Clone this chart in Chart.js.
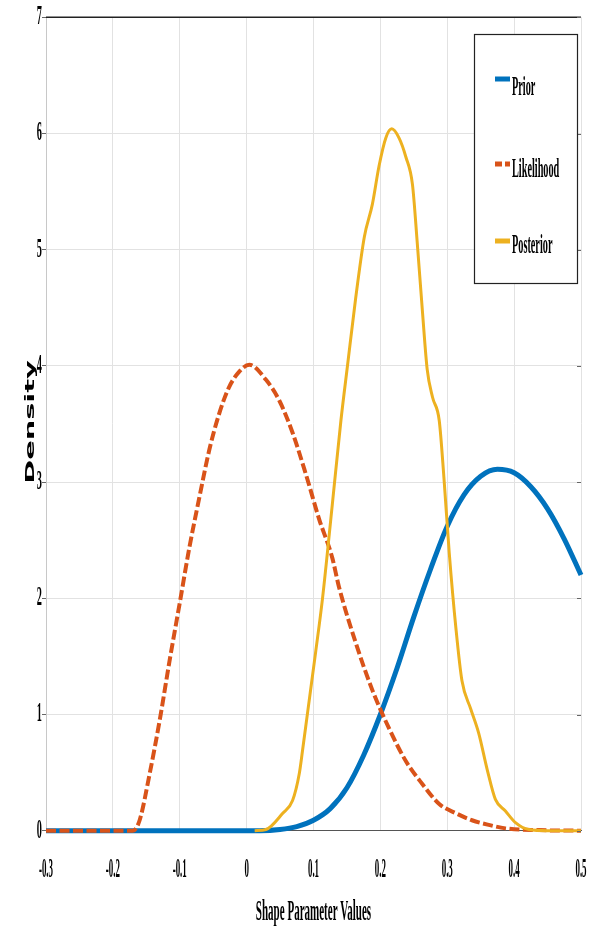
<!DOCTYPE html>
<html>
<head>
<meta charset="utf-8">
<script src="https://cdn.jsdelivr.net/npm/chart.js@4.4.1/dist/chart.umd.min.js"></script>
<style>
  html, body { margin: 0; padding: 0; background: #fff; }
  canvas { display: block; }
</style>
</head>
<body>
<canvas id="density" width="603" height="936"></canvas>
<script>
// values
const priorX = [-0.3, -0.2, -0.1, 0, 0.02, 0.05, 0.075, 0.1, 0.125, 0.15, 0.175, 0.2, 0.225, 0.25, 0.275, 0.3, 0.325, 0.35, 0.375, 0.4, 0.425, 0.45, 0.475, 0.5];
const priorY = [0, 0, 0, 0, 0, 0.01, 0.035, 0.09, 0.19, 0.37, 0.65, 1.0, 1.4, 1.84, 2.25, 2.62, 2.89, 3.05, 3.11, 3.08, 2.96, 2.77, 2.51, 2.2];

const likeX = [-0.3, -0.2, -0.17, -0.16, -0.145, -0.13, -0.115, -0.1, -0.0855, -0.0706, -0.0557, -0.041, -0.026, -0.011, 0.004, 0.029, 0.049, 0.069, 0.089, 0.1085, 0.128, 0.138, 0.163, 0.188, 0.213, 0.238, 0.263, 0.288, 0.313, 0.337, 0.362, 0.387, 0.437, 0.5];
const likeY = [0, 0, 0, 0.09, 0.49, 0.95, 1.47, 1.96, 2.44, 2.87, 3.28, 3.59, 3.82, 3.95, 4.01, 3.88, 3.7, 3.42, 3.06, 2.68, 2.35, 2.1, 1.62, 1.21, 0.88, 0.6, 0.4, 0.23, 0.15, 0.09, 0.05, 0.02, 0.005, 0];

const postX = [0.012, 0.029, 0.054, 0.0687, 0.0787, 0.0836, 0.091, 0.1035, 0.1135, 0.128, 0.141, 0.151, 0.163, 0.176, 0.188, 0.198, 0.208, 0.217, 0.228, 0.238, 0.248, 0.255, 0.263, 0.27, 0.278, 0.288, 0.295, 0.303, 0.313, 0.322, 0.335, 0.347, 0.36, 0.372, 0.387, 0.402, 0.422, 0.45, 0.5];
const postY = [0, 0.01, 0.15, 0.26, 0.49, 0.69, 1.01, 1.55, 2.0, 2.8, 3.53, 4.01, 4.58, 5.11, 5.39, 5.72, 5.96, 6.04, 5.96, 5.8, 5.56, 5.07, 4.46, 3.97, 3.73, 3.53, 3.04, 2.39, 1.74, 1.29, 1.05, 0.84, 0.52, 0.27, 0.17, 0.07, 0.01, 0, 0];

const xTickLabels = ['-0.3', '-0.2', '-0.1', '0', '0.1', '0.2', '0.3', '0.4', '0.5'];
const yTickLabels = ['0', '1', '2', '3', '4', '5', '6', '7'];
const seriesNames = ['Prior', 'Likelihood', 'Posterior'];

const BLUE = '#0072BD', ORANGE = '#D95319', YELLOW = '#EDB120';

function pts(xs, ys) {
    return xs.map((x, i) => ({x: x, y: ys[i]}));
}

// squeezed serif text like the original figure
function txt(ctx, s, x, y, size, sx, align, weight, base) {
    ctx.save();
    ctx.font = (weight || 'normal') + ' ' + size + 'px "Liberation Serif", serif';
    ctx.textAlign = align || 'center';
    ctx.textBaseline = base || 'middle';
    ctx.fillStyle = '#000';
    ctx.translate(x, y);
    ctx.scale(sx, 1);
    ctx.fillText(s, 0, 0);
    ctx.restore();
}

const decor = {
    id: 'decor',
    afterDraw(chart) {
        const ctx = chart.ctx;
        const a = chart.chartArea;
        const xs = chart.scales.x, ys = chart.scales.y;

        // top box line and right side ticks
        ctx.save();
        ctx.strokeStyle = '#222';
        ctx.lineWidth = 1.5;
        ctx.beginPath();
        ctx.moveTo(a.left, a.top);
        ctx.lineTo(a.right, a.top);
        ctx.stroke();
        ctx.strokeStyle = '#666';
        ctx.lineWidth = 1;
        yTickLabels.forEach(l => {
            const py = Math.round(ys.getPixelForValue(parseFloat(l))) + 0.5;
            ctx.beginPath();
            ctx.moveTo(a.right - 4, py);
            ctx.lineTo(a.right, py);
            ctx.stroke();
        });
        ctx.restore();

        // tick labels
        xTickLabels.forEach(l => {
            txt(ctx, l, xs.getPixelForValue(parseFloat(l)), 870, 27, 0.33, 'center', 'bold');
        });
        yTickLabels.forEach(l => {
            txt(ctx, l, 42, ys.getPixelForValue(parseFloat(l)), 27, 0.38, 'right', 'bold');
        });

        // axis titles
        txt(ctx, 'Shape Parameter Values', (a.left + a.right) / 2, 913, 29, 0.38, 'center', 'bold');
        ctx.save();
        ctx.translate(31, 422);
        ctx.rotate(-Math.PI / 2);
        ctx.scale(2.4, 1);
        ctx.font = 'bold 12px "DejaVu Sans", sans-serif';
        ctx.textAlign = 'center';
        ctx.textBaseline = 'middle';
        ctx.fillStyle = '#000';
        ctx.fillText('Density', 0, 0);
        ctx.restore();

        // legend box
        ctx.save();
        ctx.fillStyle = '#fff';
        ctx.fillRect(474, 34, 103, 249);
        ctx.strokeStyle = '#222';
        ctx.lineWidth = 1.2;
        ctx.strokeRect(474.5, 34.5, 103, 249);
        const rows = [
            {c: BLUE, ly: 79, ty: 95, dash: []},
            {c: ORANGE, ly: 164, ty: 177, dash: [7, 3]},
            {c: YELLOW, ly: 241, ty: 253, dash: []}
        ];
        rows.forEach((r, i) => {
            ctx.strokeStyle = r.c;
            ctx.lineWidth = 5;
            ctx.setLineDash(r.dash);
            ctx.beginPath();
            ctx.moveTo(495, r.ly);
            ctx.lineTo(510, r.ly);
            ctx.stroke();
            txt(ctx, seriesNames[i], 512, r.ty, 27, 0.38, 'left', 'bold', 'alphabetic');
        });
        ctx.restore();
    }
};

const config = {
    type: 'line',
    data: {
        datasets: [
            {
                label: seriesNames[0],
                data: pts(priorX, priorY),
                borderColor: BLUE,
                borderWidth: 5,
                order: 3
            },
            {
                label: seriesNames[1],
                data: pts(likeX, likeY),
                borderColor: ORANGE,
                borderWidth: 4,
                borderDash: [10, 3.5],
                order: 2
            },
            {
                label: seriesNames[2],
                data: pts(postX, postY),
                borderColor: YELLOW,
                borderWidth: 3,
                order: 1
            }
        ]
    },
    options: {
        responsive: false,
        animation: false,
        devicePixelRatio: 1,
        datasets: {
            line: {
                pointRadius: 0,
                fill: false,
                cubicInterpolationMode: 'monotone',
                clip: 8
            }
        },
        layout: {
            padding: {top: 17.3, right: 22, left: 0, bottom: 0}
        },
        plugins: {
            legend: {display: false},
            tooltip: {enabled: false}
        },
        scales: {
            x: {
                type: 'linear',
                min: -0.3,
                max: 0.5,
                ticks: {display: false, stepSize: 0.1},
                grid: {color: '#e2e2e2', drawTicks: false},
                border: {color: '#555', width: 1},
                afterFit: s => { s.height = 105.3; }
            },
            y: {
                min: 0,
                max: 7,
                ticks: {display: false, stepSize: 1},
                grid: {color: '#e2e2e2', tickLength: 4, tickColor: '#666'},
                border: {color: '#c8c8c8', width: 1},
                afterFit: s => { s.width = 46; }
            }
        }
    },
    plugins: [decor]
};

new Chart(document.getElementById('density'), config);
</script>
</body>
</html>
